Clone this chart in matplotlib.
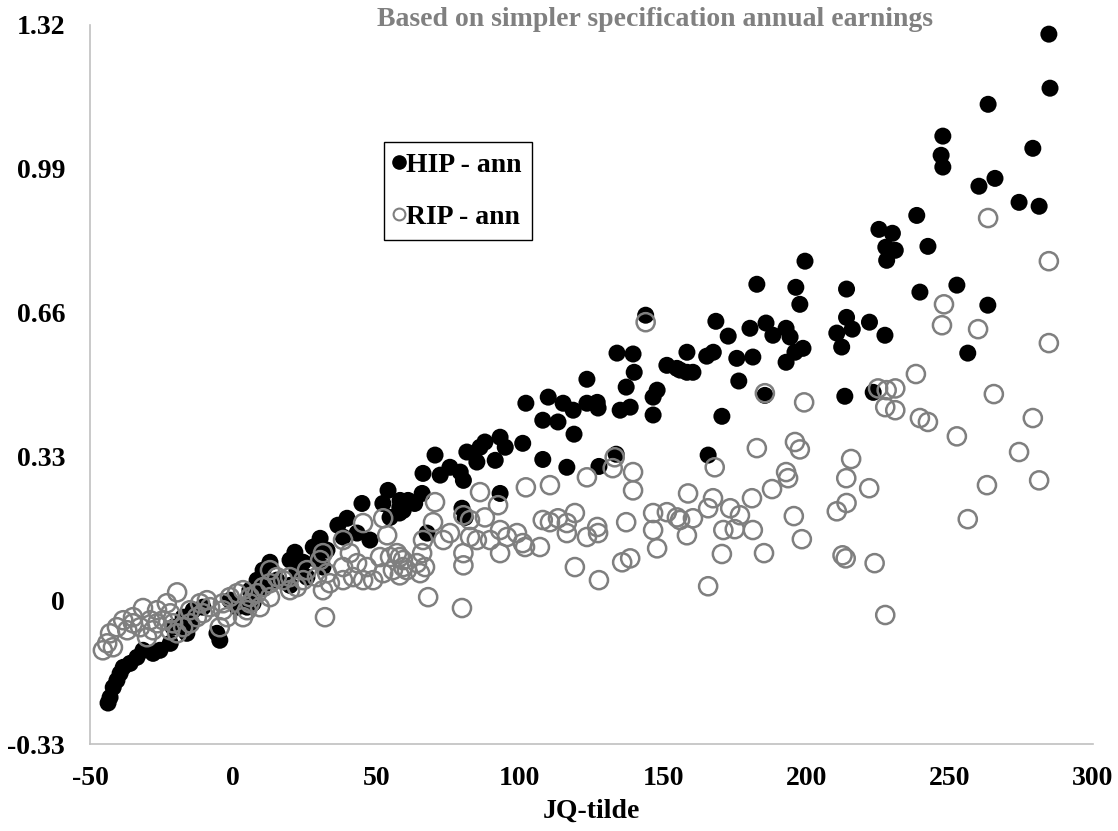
import matplotlib
matplotlib.use("Agg")
import matplotlib.pyplot as plt
from matplotlib.lines import Line2D

plt.rcParams['font.family'] = ['Liberation Serif', 'DejaVu Serif']
plt.rcParams['font.weight'] = 'bold'
plt.rcParams['axes.unicode_minus'] = False

# HIP - ann (filled black)
hip_x = [284.6, 285.0, 263.4, 247.6, 247.0, 247.6, 279.0, 260.2, 265.8, 274.2,
         281.2, 238.5, 225.3, 230.0, 227.7, 231.0, 228.0, 242.4, 199.5, 214.0,
         239.6, 252.5, 263.3, 214.0, 216.0, 222.0, 210.6, 227.4, 182.7, 196.3,
         197.7, 168.4, 172.7, 180.3, 185.9, 188.3, 192.9, 194.3, 198.8, 192.9,
         196.0, 212.3, 256.3, 158.3, 165.2, 167.5, 155.9, 160.4, 175.7, 181.3,
         176.4, 185.5, 213.4, 223.3, 170.5, 165.7, 143.9, 133.9, 139.5, 151.3,
         154.8, 158.3, 139.9, 137.1, 147.9, 146.5, 138.5, 135.0, 146.5, 123.4,
         109.9, 115.1, 118.6, 123.4, 127.0, 127.3, 102.1, 108.0, 113.3, 118.9,
         101.0, 93.1, 94.9, 91.4, 87.8, 86.1, 81.5, 85.0, 70.4, 108.0,
         116.4, 127.6, 133.6, 75.6, 79.2, 72.2, 66.2, 80.3, 65.9, 61.0,
         58.1, 63.3, 93.1, 79.8, 80.9, 67.6, 58.0, 54.0, 52.2, 58.2,
         59.3, 54.7, 44.9, 39.7, 36.5, 43.2, 38.3, 47.7, 30.3, 27.9,
         32.7, 21.5, 19.8, 24.4, 12.8, 10.4, 8.3, 6.9, 4.8, -5.7,
         -4.7, 1.3, -1.2, -10.6, -14.0, -17.5, -15.1, -21.0, -16.2, -22.0,
         -25.6, -28.0, -31.5, -33.6, -36.0, -38.4, -39.5, -40.6, -41.9, -43.0,
         -43.7, 5.8, 10.4, 15.2, 19.8, 25.7, 22.2, 29.2, 31.3]
hip_y = [1.299, 1.175, 1.138, 1.065, 1.021, 0.994, 1.037, 0.950, 0.968, 0.913,
         0.904, 0.883, 0.851, 0.842, 0.810, 0.803, 0.780, 0.812, 0.778, 0.714,
         0.707, 0.723, 0.677, 0.649, 0.622, 0.638, 0.613, 0.608, 0.725, 0.718,
         0.679, 0.640, 0.606, 0.624, 0.636, 0.608, 0.624, 0.604, 0.578, 0.546,
         0.569, 0.581, 0.567, 0.569, 0.560, 0.569, 0.528, 0.523, 0.555, 0.558,
         0.503, 0.470, 0.468, 0.477, 0.422, 0.333, 0.654, 0.567, 0.565, 0.539,
         0.532, 0.523, 0.523, 0.489, 0.482, 0.466, 0.443, 0.436, 0.425, 0.507,
         0.466, 0.452, 0.436, 0.452, 0.454, 0.441, 0.452, 0.413, 0.409, 0.381,
         0.360, 0.374, 0.351, 0.321, 0.363, 0.351, 0.340, 0.317, 0.333, 0.323,
         0.305, 0.307, 0.335, 0.305, 0.294, 0.287, 0.291, 0.275, 0.245, 0.229,
         0.213, 0.222, 0.245, 0.211, 0.190, 0.154, 0.200, 0.252, 0.222, 0.229,
         0.206, 0.190, 0.222, 0.188, 0.172, 0.154, 0.145, 0.138, 0.142, 0.122,
         0.115, 0.110, 0.092, 0.087, 0.087, 0.069, 0.046, -0.007, -0.016, -0.076,
         -0.092, -0.016, 0.000, -0.016, -0.023, -0.039, -0.053, -0.062, -0.076, -0.099,
         -0.115, -0.122, -0.115, -0.131, -0.145, -0.154, -0.168, -0.184, -0.200, -0.223,
         -0.236, 0.023, 0.030, 0.046, 0.034, 0.053, 0.069, 0.092, 0.076]

# RIP - ann (open grey)
rip_x = [263.4, 284.6, 248.0, 247.3, 259.9, 284.6, 238.2, 225.0, 228.0, 231.0,
         227.5, 231.0, 239.6, 242.4, 265.4, 252.5, 279.0, 274.2, 281.2, 263.0,
         256.3, 185.5, 199.2, 182.7, 196.0, 197.7, 168.0, 215.6, 213.9, 221.9,
         214.0, 210.6, 192.9, 193.6, 188.0, 195.6, 198.4, 181.0, 176.8, 175.0,
         181.3, 167.4, 165.7, 158.7, 160.4, 158.3, 155.9, 170.5, 185.2, 165.7,
         212.6, 213.7, 223.8, 227.5, 143.9, 133.1, 132.4, 139.5, 139.5, 123.4,
         102.1, 110.5, 86.1, 92.4, 87.8, 80.3, 82.6, 70.4, 69.7, 173.4,
         171.0, 146.5, 151.3, 154.8, 146.5, 147.9, 137.1, 108.0, 110.5, 113.3,
         116.4, 119.2, 116.4, 123.4, 127.0, 127.3, 107.0, 93.1, 95.5, 89.6,
         93.1, 99.0, 101.0, 101.8, 82.6, 85.0, 80.3, 80.3, 73.3, 75.6,
         66.2, 65.9, 64.1, 66.9, 65.2, 58.1, 59.3, 58.1, 68.0, 79.8,
         119.2, 127.6, 135.7, 138.5, -19.6, -23.2, -26.6, -31.5, -35.0, -38.4,
         -40.6, -43.0, -44.0, -45.5, -42.0, -37.0, -35.0, -32.5, -29.0, -26.6,
         -28.0, -30.1, -22.0, -24.5, -21.0, -17.5, -19.6, -22.0, -15.1, -11.6,
         -9.2, -8.1, -12.7, -15.1, -10.6, -3.6, -1.2, 1.3, -3.6, -2.2,
         -4.7, 3.4, 5.8, 8.3, 10.4, 5.8, 9.3, 4.8, 3.4, 12.8,
         15.2, 12.8, 17.4, 19.8, 19.8, 22.2, 12.8, 24.4, 25.7, 29.2,
         30.3, 31.3, 33.7, 31.3, 32.7, 32.0, 38.3, 40.7, 38.3, 43.2,
         41.8, 46.6, 45.3, 38.3, 45.3, 52.3, 53.7, 51.2, 54.7, 57.1,
         59.2, 60.6, 55.7, 52.3, 48.8]
rip_y = [0.877, 0.778, 0.679, 0.631, 0.622, 0.590, 0.519, 0.486, 0.482, 0.486,
         0.443, 0.436, 0.418, 0.409, 0.473, 0.376, 0.418, 0.340, 0.275, 0.264,
         0.186, 0.475, 0.454, 0.349, 0.363, 0.346, 0.305, 0.324, 0.280, 0.257,
         0.223, 0.204, 0.294, 0.280, 0.255, 0.193, 0.140, 0.234, 0.195, 0.163,
         0.161, 0.234, 0.211, 0.245, 0.188, 0.149, 0.184, 0.106, 0.108, 0.032,
         0.103, 0.096, 0.085, -0.034, 0.638, 0.328, 0.303, 0.294, 0.252, 0.282,
         0.259, 0.264, 0.248, 0.218, 0.190, 0.195, 0.184, 0.225, 0.179, 0.211,
         0.161, 0.200, 0.202, 0.190, 0.161, 0.119, 0.179, 0.184, 0.179, 0.188,
         0.177, 0.200, 0.154, 0.145, 0.168, 0.154, 0.122, 0.161, 0.145, 0.138,
         0.108, 0.154, 0.131, 0.122, 0.145, 0.138, 0.108, 0.080, 0.138, 0.154,
         0.138, 0.108, 0.085, 0.076, 0.062, 0.099, 0.076, 0.057, 0.007, -0.018,
         0.076, 0.046, 0.087, 0.096, 0.018, -0.007, -0.023, -0.018, -0.039, -0.046,
         -0.062, -0.076, -0.099, -0.115, -0.108, -0.069, -0.053, -0.062, -0.046, -0.053,
         -0.069, -0.085, -0.030, -0.046, -0.053, -0.062, -0.076, -0.069, -0.023, -0.007,
         0.000, -0.016, -0.039, -0.053, -0.030, -0.007, 0.007, 0.016, -0.023, -0.039,
         -0.062, 0.023, 0.007, 0.016, 0.030, -0.007, -0.016, -0.023, -0.039, 0.039,
         0.053, 0.069, 0.046, 0.053, 0.023, 0.030, 0.007, 0.046, 0.069, 0.053,
         0.092, 0.108, 0.039, 0.023, 0.062, -0.039, 0.138, 0.108, 0.076, 0.085,
         0.053, 0.076, 0.046, 0.046, 0.177, 0.188, 0.149, 0.099, 0.099, 0.108,
         0.092, 0.069, 0.069, 0.062, 0.046]

x_ticks = [-50, 0, 50, 100, 150, 200, 250, 300]
y_ticks = [-0.33, 0, 0.33, 0.66, 0.99, 1.32]
y_tick_labels = ['-0.33', '0', '0.33', '0.66', '0.99', '1.32']

grey = '#7f7f7f'

fig = plt.figure(figsize=(11.18, 8.31), dpi=100)
ax = fig.add_axes([90 / 1118, 1 - 744 / 831, (1093 - 90) / 1118, (744 - 25) / 831])

ax.scatter(hip_x, hip_y, s=150, color='black', edgecolors='none', zorder=2)
ax.scatter(rip_x, rip_y, s=170, facecolors='none', edgecolors=grey, linewidths=1.8, zorder=3)

ax.set_xlim(-50, 300)
ax.set_ylim(-0.33, 1.32)
ax.set_xticks(x_ticks)
ax.set_yticks(y_ticks)
ax.set_yticklabels(y_tick_labels)
ax.tick_params(length=0, labelsize=20)
ax.tick_params(axis='y', pad=18)
ax.tick_params(axis='x', pad=16)
for lab in ax.get_xticklabels() + ax.get_yticklabels():
    lab.set_fontweight('bold')

for side in ['top', 'right']:
    ax.spines[side].set_visible(False)
for side in ['left', 'bottom']:
    ax.spines[side].set_color('#c0c0c0')
    ax.spines[side].set_linewidth(1.2)

fig.text(655 / 1118, 1 - 20 / 831, 'Based on simpler specification annual earnings',
         ha='center', va='center', fontsize=20, fontweight='bold', color='#808080')
fig.text(591 / 1118, 1 - 811 / 831, 'JQ-tilde', ha='center', va='center',
         fontsize=20, fontweight='bold')

handles = [
    Line2D([], [], linestyle='none', marker='o', markersize=9.5, color='black'),
    Line2D([], [], linestyle='none', marker='o', markersize=8.5, markerfacecolor='none',
           markeredgecolor=grey, markeredgewidth=1.5),
]
leg = ax.legend(handles, ['HIP - ann', 'RIP - ann'], loc='upper left',
                bbox_to_anchor=(384 / 1118, 1 - 142 / 831), bbox_transform=fig.transFigure,
                borderaxespad=0, fancybox=False, framealpha=1, edgecolor='black',
                prop={'size': 20, 'weight': 'bold'}, handlelength=0.3,
                handletextpad=0.1, labelspacing=0.95, borderpad=0.38)
leg.get_frame().set_linewidth(1.0)

fig.savefig('out.png', dpi=100)
